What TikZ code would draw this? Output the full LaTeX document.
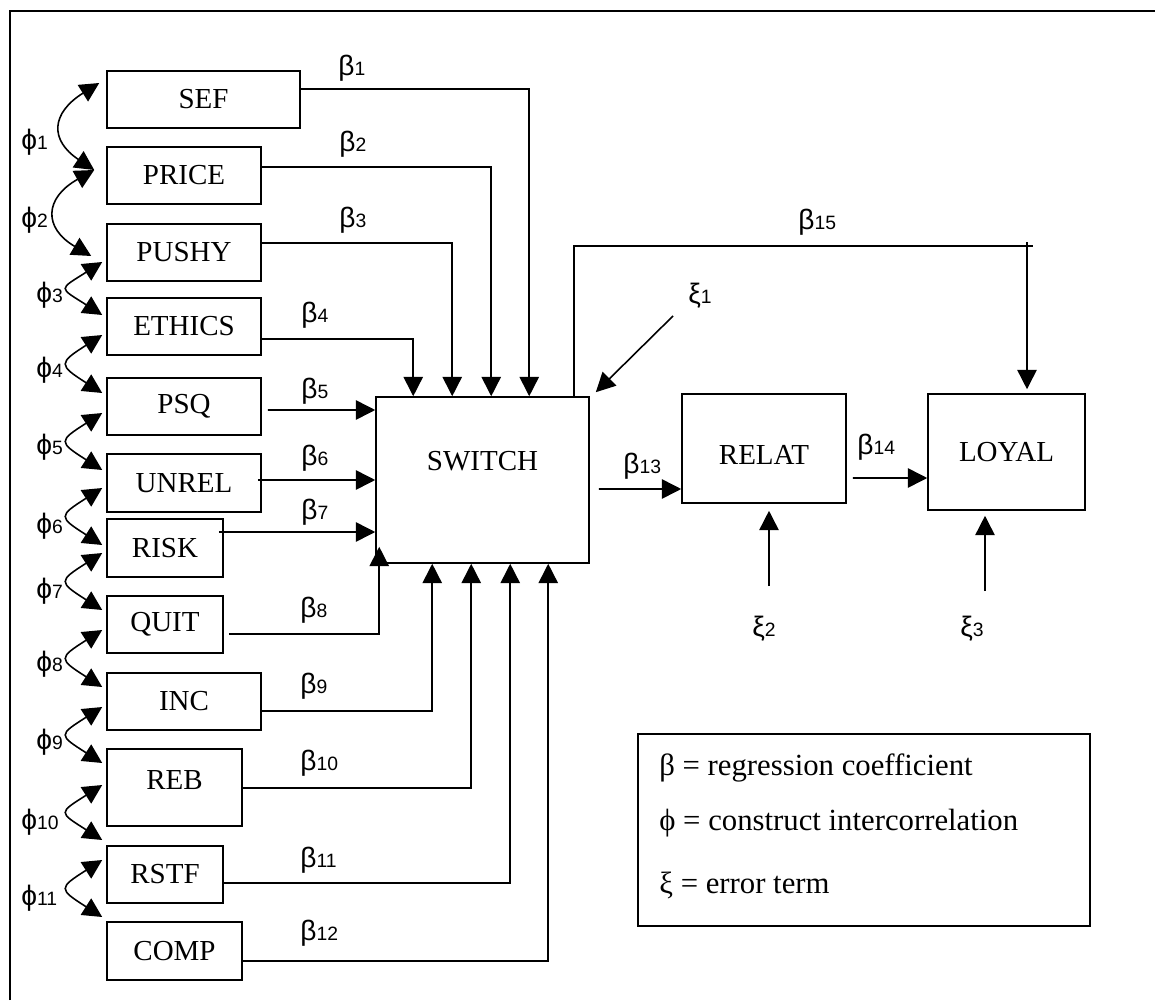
\documentclass[tikz,border=0pt]{standalone}
\usepackage{fontspec}
\setmainfont{Liberation Serif}
\newfontfamily\gsans{Liberation Sans}
\usetikzlibrary{arrows.meta,calc}
\tikzset{
  box/.style={draw, line width=0.9pt, inner sep=0pt, font=\fontsize{16.5}{20}\selectfont},
  conn/.style={line width=0.9pt},
  arr/.style={line width=0.9pt, -{Triangle[length=11pt,width=11pt]}},
  darr/.style={line width=0.9pt, {Triangle[length=11pt,width=11pt]}-{Triangle[length=11pt,width=11pt]}},
  glab/.style={anchor=west, inner sep=0pt, font=\gsans\fontsize{16}{18}\selectfont},
  legtxt/.style={anchor=west, inner sep=0pt, font=\fontsize{17.5}{20}\selectfont},
}
\newcommand\sbx[1]{{\fontsize{11}{12}\selectfont #1}}
\begin{document}
\begin{tikzpicture}[x=0.02cm,y=-0.02cm]
\useasboundingbox (0,0) rectangle (1155,1000);
% frame
\draw[conn] (10,1000) -- (10,11) -- (1155,11);

% left boxes
\node[box, minimum width=3.86cm, minimum height=1.14cm] (sef) at (203.5,99.5) {SEF};
\node[box, minimum width=3.08cm, minimum height=1.14cm] (price) at (184,175.5) {PRICE};
\node[box, minimum width=3.08cm, minimum height=1.14cm] (pushy) at (184,252.5) {PUSHY};
\node[box, minimum width=3.08cm, minimum height=1.14cm] (ethics) at (184,326.5) {ETHICS};
\node[box, minimum width=3.08cm, minimum height=1.14cm] (psq) at (184,406.5) {PSQ};
\node[box, minimum width=3.08cm, minimum height=1.16cm] (unrel) at (184,483) {UNREL};
\node[box, minimum width=2.32cm, minimum height=1.16cm] (risk) at (165,548) {RISK};
\node[box, minimum width=2.32cm, minimum height=1.14cm] (quit) at (165,624.5) {QUIT};
\node[box, minimum width=3.08cm, minimum height=1.14cm] (inc) at (184,701.5) {INC};
\node[box, minimum width=2.7cm, minimum height=1.54cm, text depth=8.5pt] (reb) at (174.5,787.5) {REB};
\node[box, minimum width=2.32cm, minimum height=1.14cm] (rstf) at (165,874.5) {RSTF};
\node[box, minimum width=2.7cm, minimum height=1.16cm] (comp) at (174.5,951) {COMP};

% main boxes
\node[box, minimum width=4.26cm, minimum height=3.32cm, text depth=22pt] (sw) at (482.5,480) {SWITCH};
\node[box, minimum width=3.28cm, minimum height=2.18cm, text height=18pt] (relat) at (764,448.5) {RELAT};
\node[box, minimum width=3.14cm, minimum height=2.32cm] (loyal) at (1006.5,452) {LOYAL};

% legend
\node[box, minimum width=9.04cm, minimum height=3.84cm] (legend) at (864,830) {};
\node[legtxt] (leg1) at (659,768) {β = regression coefficient};
\node[legtxt] (leg2) at (659,823) {ϕ = construct intercorrelation};
\node[legtxt] (leg3) at (659,885) {ξ = error term};

% beta connectors: top
\draw[arr] ($(sef.east)+(0,-10.5)$) -| ($(sw.north west)+(154,0)$);
\draw[arr] ($(price.east)+(0,-8.5)$) -| ($(sw.north west)+(116,0)$);
\draw[arr] ($(pushy.east)+(0,-9.5)$) -| ($(sw.north west)+(77,0)$);
\draw[arr] ($(ethics.east)+(0,12.5)$) -| ($(sw.north west)+(38,0)$);
% left
\draw[arr] ($(psq.east)+(6,3.5)$) -- ($(sw.west)+(0,-70)$);
\draw[arr] ($(unrel.east)+(-4,-3)$) -- ($(sw.west)+(0,0)$);
\draw[arr] ($(risk.east)+(-5,-16)$) -- ($(sw.west)+(0,52)$);
% bottom
\draw[arr] ($(quit.east)+(5,9.5)$) -| ($(sw.south west)+(4,-17)$);
\draw[arr] ($(inc.east)+(0,9.5)$) -| ($(sw.south west)+(57,0)$);
\draw[arr] ($(reb.east)+(0,0.5)$) -| ($(sw.south west)+(96,0)$);
\draw[arr] ($(rstf.east)+(0,8.5)$) -| ($(sw.south west)+(135,0)$);
\draw[arr] ($(comp.east)+(0,10)$) -| ($(sw.south west)+(173,0)$);

% right part
\draw[arr] ($(sw.east)+(9,9)$) -- ($(relat.west)+(0,40.5)$);
\draw[arr] ($(relat.east)+(6,29.5)$) -- ($(loyal.west)+(0,26)$);
\draw[conn] ($(sw.north west)+(199,0)$) |- ($(loyal.north)+(26.5,-147)$);
\draw[arr] ($(loyal.north)+(20.5,-151)$) -- ($(loyal.north)+(20.5,-4)$);
\coordinate (x1s) at (673,316);
\coordinate (x2s) at (769,586);
\coordinate (x3s) at (985,591);
\draw[arr] (x1s) -- ($(sw.north east)+(6,-4)$);
\draw[arr] (x2s) -- ($(relat.south)+(5,7)$);
\draw[arr] (x3s) -- ($(loyal.south)+(-21.5,5)$);

% phi curves
\draw[darr] ($(sef.west)+(-7,-16.5)$) .. controls +(-48,30) and +(-45,-30) .. ($(price.west)+(-12,-5.5)$);
\draw[darr] ($(price.west)+(-12,-5.5)$) .. controls +(-50,28) and +(-48,-28) .. ($(pushy.west)+(-15,3.5)$);
\draw[darr] ($(pushy.west)+(-4,9.5)$) .. controls +(-44,28) and +(-44,-28) .. ($(ethics.west)+(-4,-11.5)$);
\draw[darr] ($(ethics.west)+(-4,8.5)$) .. controls +(-44,28) and +(-44,-28) .. ($(psq.west)+(-4,-13.5)$);
\draw[darr] ($(psq.west)+(-4,6.5)$) .. controls +(-44,28) and +(-44,-28) .. ($(unrel.west)+(-4,-13)$);
\draw[darr] ($(unrel.west)+(-4,5)$) .. controls +(-44,28) and +(-44,-28) .. ($(risk.west)+(-4,-3)$);
\draw[darr] ($(risk.west)+(-4,5)$) .. controls +(-44,28) and +(-44,-28) .. ($(quit.west)+(-4,-14.5)$);
\draw[darr] ($(quit.west)+(-4,5.5)$) .. controls +(-44,28) and +(-44,-28) .. ($(inc.west)+(-4,-14.5)$);
\draw[darr] ($(inc.west)+(-4,5.5)$) .. controls +(-44,28) and +(-44,-28) .. ($(reb.west)+(-4,-24.5)$);
\draw[darr] ($(reb.west)+(-4,-2.5)$) .. controls +(-44,28) and +(-44,-28) .. ($(rstf.west)+(-4,-34.5)$);
\draw[darr] ($(rstf.west)+(-4,-14.5)$) .. controls +(-44,28) and +(-44,-28) .. ($(comp.west)+(-4,-34)$);

% phi labels
\node[glab] (p1) at (21,142) {ϕ\sbx{1}};
\node[glab] (p2) at (21,220) {ϕ\sbx{2}};
\node[glab] (p3) at (36,295) {ϕ\sbx{3}};
\node[glab] (p4) at (36,370) {ϕ\sbx{4}};
\node[glab] (p5) at (36,447) {ϕ\sbx{5}};
\node[glab] (p6) at (36,526) {ϕ\sbx{6}};
\node[glab] (p7) at (36,591) {ϕ\sbx{7}};
\node[glab] (p8) at (36,664) {ϕ\sbx{8}};
\node[glab] (p9) at (36,742) {ϕ\sbx{9}};
\node[glab] (p10) at (21,822) {ϕ\sbx{10}};
\node[glab] (p11) at (21,898) {ϕ\sbx{11}};

% beta labels
\node[glab] (b1) at (338,68) {β\sbx{1}};
\node[glab] (b2) at (339,144) {β\sbx{2}};
\node[glab] (b3) at (339,220) {β\sbx{3}};
\node[glab] (b4) at (301,315) {β\sbx{4}};
\node[glab] (b5) at (301,391) {β\sbx{5}};
\node[glab] (b6) at (301,458) {β\sbx{6}};
\node[glab] (b7) at (301,512) {β\sbx{7}};
\node[glab] (b8) at (300,610) {β\sbx{8}};
\node[glab] (b9) at (300,686) {β\sbx{9}};
\node[glab] (b10) at (300,763) {β\sbx{10}};
\node[glab] (b11) at (300,860) {β\sbx{11}};
\node[glab] (b12) at (300,933) {β\sbx{12}};
\node[glab] (b13) at (623,466) {β\sbx{13}};
\node[glab] (b14) at (857,447) {β\sbx{14}};
\node[glab] (b15) at (798,222) {β\sbx{15}};
\node[glab] (e1) at (688,296) {ξ\sbx{1}};
\node[glab] (e2) at (752,629) {ξ\sbx{2}};
\node[glab] (e3) at (960,629) {ξ\sbx{3}};
\end{tikzpicture}
\end{document}
